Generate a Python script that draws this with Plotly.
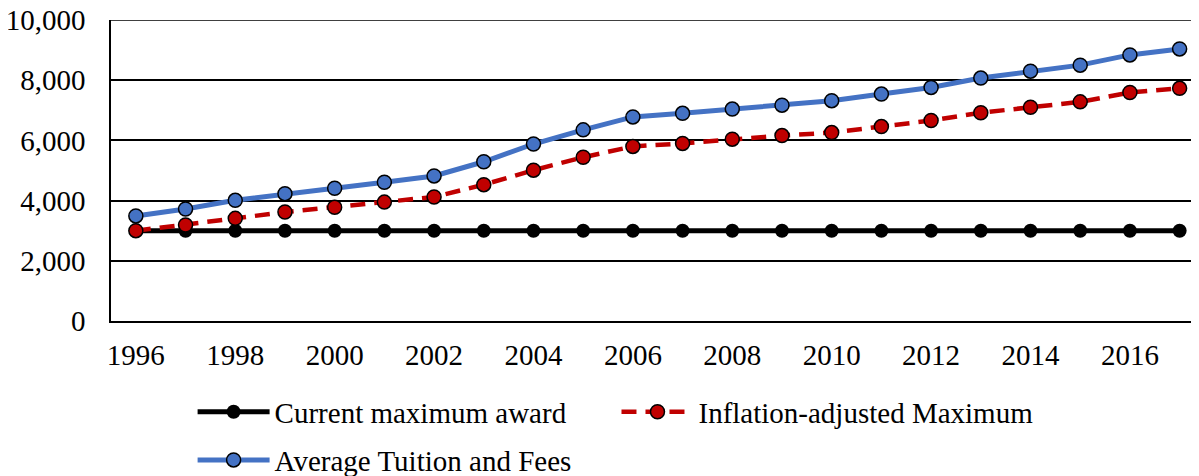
import plotly.graph_objects as go

years = list(range(1996, 2018))
current_max = [3000] * 22
inflation_adj = [3000, 3190, 3410, 3620, 3780, 3950, 4120, 4530, 5010, 5440, 5800, 5900,
                 6040, 6160, 6260, 6460, 6660, 6920, 7100, 7280, 7590, 7730]
tuition = [3490, 3720, 4010, 4230, 4410, 4610, 4820, 5290, 5880, 6350, 6780, 6900,
           7040, 7170, 7320, 7540, 7760, 8070, 8300, 8500, 8840, 9040]
x_ticks = list(range(1996, 2017, 2))
y_max = 10000
names = ["Current maximum award", "Inflation-adjusted Maximum", "Average Tuition and Fees"]

FONT = dict(family="Liberation Serif, Times New Roman, serif", size=29, color="black")

fig = go.Figure()
fig.add_trace(go.Scatter(
    x=years, y=current_max, name=names[0], mode="lines+markers",
    line=dict(color="black", width=5),
    marker=dict(color="black", size=14, line=dict(color="black", width=0)),
    legend="legend"))
fig.add_trace(go.Scatter(
    x=years, y=inflation_adj, name=names[1], mode="lines+markers",
    line=dict(color="#C00000", width=4.5, dash="15px,9px"),
    marker=dict(color="#C00000", size=14, line=dict(color="black", width=1.5)),
    legend="legend2"))
fig.add_trace(go.Scatter(
    x=years, y=tuition, name=names[2], mode="lines+markers",
    line=dict(color="#4472C4", width=5),
    marker=dict(color="#4472C4", size=14, line=dict(color="black", width=1.5)),
    legend="legend3"))

# top gridline (plotly omits gridlines lying on the plot edge)
fig.add_shape(type="line", xref="paper", yref="y", x0=0, x1=1, y0=y_max, y1=y_max,
              line=dict(color="black", width=1.5), layer="below")

leg_common = dict(font=FONT, bgcolor="rgba(0,0,0,0)", itemwidth=72,
                  xanchor="left", yanchor="middle", orientation="h")

# page body has an 8px default margin, so the figure is sized to fit inside it
fig.update_layout(
    width=1191, height=468,
    margin=dict(l=103, r=0, t=12, b=155, autoexpand=False),
    paper_bgcolor="white", plot_bgcolor="white",
    font=FONT,
    showlegend=True,
    legend=dict(x=0.075, y=-0.302, **leg_common),
    legend2=dict(x=0.4646, y=-0.302, **leg_common),
    legend3=dict(x=0.075, y=-0.462, **leg_common),
    xaxis=dict(
        range=[1995.5, 2017.39], tickvals=x_ticks, ticktext=[str(v) for v in x_ticks],
        showgrid=False, zeroline=False, showline=True, linecolor="black", linewidth=1.5,
        ticks="", ticklabelstandoff=7, tickfont=FONT, automargin=False,
        ticklabeloverflow="allow"),
    yaxis=dict(
        range=[0, y_max], dtick=2000, tickformat=",", showgrid=True,
        gridcolor="black", gridwidth=1.5, zeroline=False, showline=True,
        linecolor="black", linewidth=1.5, ticks="", ticklabelstandoff=18, tickfont=FONT,
        automargin=False, ticklabeloverflow="allow"),
)

fig.write_html("out.html")
